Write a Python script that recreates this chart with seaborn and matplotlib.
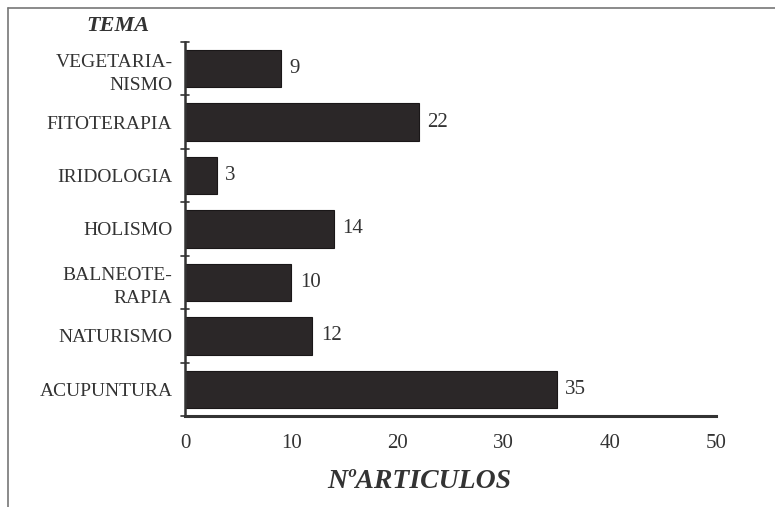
import matplotlib
matplotlib.use("Agg")
import matplotlib.pyplot as plt
import seaborn as sns
import pandas as pd
from matplotlib.lines import Line2D

temas = ["VEGETARIA-\nNISMO", "FITOTERAPIA", "IRIDOLOGIA", "HOLISMO",
         "BALNEOTE-\nRAPIA", "NATURISMO", "ACUPUNTURA"]
articulos = [9, 22, 3, 14, 10, 12, 35]
xticks = [0, 10, 20, 30, 40, 50]

sns.set_theme(style="white")
plt.rcParams['font.family'] = ['Liberation Serif', 'DejaVu Serif']

df = pd.DataFrame({"tema": temas, "n": articulos})

fig = plt.figure(figsize=(7.75, 5.07), dpi=100)
ax = fig.add_axes([0.2387, 0.1795, 0.6852, 0.7377])

sns.barplot(data=df, y="tema", x="n", orient="h", color="#2b2728",
            width=0.7, saturation=1, ax=ax, edgecolor="#1a1718", linewidth=0.8)

ax.set_xlim(0, 50)
ax.set_ylim(len(temas) - 0.5, -0.5)
ax.set_xticks(xticks)
ax.set_xticklabels([str(t) for t in xticks], fontsize=15, color="#333333")
ax.set_yticks(range(len(temas)))
ax.set_yticklabels(temas, fontsize=14, color="#333333", ha="right",
                   multialignment="right", linespacing=1.45)
ax.tick_params(axis="y", length=0, pad=9)
ax.tick_params(axis="x", direction="in", length=5, width=1.2, color="#333333", pad=13)

# boundary ticks on y axis
for b in [i - 0.5 for i in range(len(temas) + 1)]:
    ax.plot([-0.35, 0.35], [b, b], color="#333333", lw=1.2, clip_on=False,
            transform=ax.transData)

for s in ["top", "right"]:
    ax.spines[s].set_visible(False)
ax.spines["left"].set_linewidth(1.8)
ax.spines["bottom"].set_linewidth(2.2)
ax.spines["left"].set_color("#333333")
ax.spines["bottom"].set_color("#333333")
ax.set_xlabel("")
ax.set_ylabel("")

for i, v in enumerate(articulos):
    ax.text(v + 0.8, i, str(v), va="center", ha="left", fontsize=15, color="#333333")

fig.text(0.1935, 0.948, "TEMA", fontsize=16, fontweight="bold", fontstyle="italic",
         ha="right", va="center", color="#333333")
fig.text(0.541, 0.05, "NºARTICULOS", fontsize=20, fontweight="bold", fontstyle="italic",
         ha="center", va="center", color="#333333")

# page frame (left and top)
fig.add_artist(Line2D([0.0103, 0.0103], [0, 0.984], transform=fig.transFigure,
                      color="#777777", lw=1.2))
fig.add_artist(Line2D([0.0103, 1.0], [0.984, 0.984], transform=fig.transFigure,
                      color="#777777", lw=1.2))

fig.savefig("out.png", dpi=100)
